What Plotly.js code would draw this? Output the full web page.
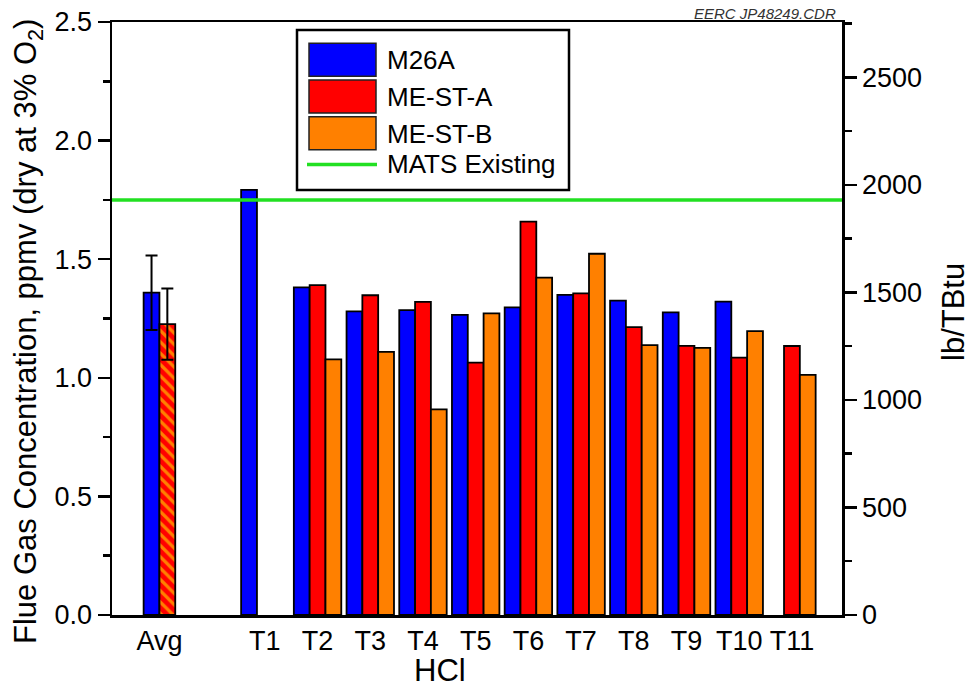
<!DOCTYPE html>
<html>
<head>
<meta charset="utf-8">
<script src="https://cdn.plot.ly/plotly-3.0.1.min.js"></script>
<style>html,body{margin:0;padding:0;background:#fff;}</style>
</head>
<body>
<div id="chart" style="width:972px;height:691px;"></div>
<script>
// HCl flue gas concentration by test run, three sampling methods
const axisCategories = ['Avg', ' ', 'T1', 'T2', 'T3', 'T4', 'T5', 'T6', 'T7', 'T8', 'T9', 'T10', 'T11'];
const testRuns = ['T1', 'T2', 'T3', 'T4', 'T5', 'T6', 'T7', 'T8', 'T9', 'T10', 'T11'];
const m26a  = [1.792, 1.381, 1.280, 1.285, 1.265, 1.297, 1.350, 1.325, 1.276, 1.321, null];
const mestA = [null, 1.391, 1.348, 1.320, 1.064, 1.658, 1.356, 1.214, 1.135, 1.085, 1.134];
const mestB = [null, 1.078, 1.109, 0.867, 1.272, 1.422, 1.523, 1.138, 1.126, 1.197, 1.012];
const avgLabel = ['Avg'];
const avgM26a = [1.359];
const avgM26aErr = [0.157];
const avgMest = [1.226];
const avgMestErr = [0.150];
const matsExisting = 1.75;          // ppmv
const ppmvToLbPerTBtu = 1103;       // right-axis conversion
const seriesNames = ['M26A', 'ME-ST-A', 'ME-ST-B', 'MATS Existing'];
const xTickLabels = avgLabel.concat(testRuns);

const BLUE = '#0000ff', RED = '#ff0000', ORANGE = '#ff8000', GREEN = '#22e022';
const FONT = 'Liberation Sans, Arial, sans-serif';

// plot area geometry (pixels)
const W = 972, H = 691, ML = 112, MR = 130, MT = 22, MB = 76;
const PW = W - ML - MR, PH = H - MT - MB;
const px = v => (v - ML) / PW;
const py = v => (H - MB - v) / PH;

const outline = {color: '#000', width: 1.8};
const barW = 0.3;

const traces = [
  {type: 'bar', name: seriesNames[0], x: testRuns, y: m26a, width: barW, offset: -1.5 * barW,
   marker: {color: BLUE, line: outline}},
  {type: 'bar', name: seriesNames[1], x: testRuns, y: mestA, width: barW, offset: -0.5 * barW,
   marker: {color: RED, line: outline}},
  {type: 'bar', name: seriesNames[2], x: testRuns, y: mestB, width: barW, offset: 0.5 * barW,
   marker: {color: ORANGE, line: outline}},
  {type: 'bar', name: 'M26A avg', x: avgLabel, y: avgM26a, width: barW, offset: -barW,
   marker: {color: BLUE, line: outline},
   error_y: {type: 'data', array: avgM26aErr, color: '#000', thickness: 2, width: 6}},
  {type: 'bar', name: 'ME-ST avg', x: avgLabel, y: avgMest, width: barW, offset: 0,
   marker: {color: RED, line: outline,
            pattern: {shape: '\\', fgcolor: ORANGE, bgcolor: RED, size: 8, solidity: 0.4, fillmode: 'replace'}},
   error_y: {type: 'data', array: avgMestErr, color: '#000', thickness: 2, width: 6}},
  // M26A in lb/TBtu on the secondary axis (transparent; carries the right-hand scale)
  {type: 'scatter', mode: 'markers', name: 'M26A lb/TBtu', x: testRuns,
   y: m26a.map(v => v == null ? null : v * ppmvToLbPerTBtu), yaxis: 'y2',
   marker: {opacity: 0, size: 1}, hoverinfo: 'skip'}
];

// legend drawn as a boxed key
const shapes = [
  {type: 'line', xref: 'paper', x0: 0, x1: 1, yref: 'y', y0: matsExisting, y1: matsExisting,
   line: {color: GREEN, width: 3.5}, layer: 'above'},
  {type: 'rect', xref: 'paper', yref: 'paper', x0: px(297), x1: px(569), y0: py(190), y1: py(30),
   fillcolor: '#fff', line: {color: '#000', width: 2.5}, layer: 'above'}
];
const swatchColors = [BLUE, RED, ORANGE];
const annotations = [];
const rowTop = 43.3, rowStep = 36.7, swH = 33;
swatchColors.forEach((c, i) => {
  const t = rowTop + i * rowStep;
  shapes.push({type: 'rect', xref: 'paper', yref: 'paper', x0: px(309), x1: px(376),
    y0: py(t + swH), y1: py(t), fillcolor: c, line: {color: '#222', width: 1.5}, layer: 'above'});
  annotations.push({xref: 'paper', yref: 'paper', x: px(385), y: py(t + swH / 2 + 0.5), xanchor: 'left',
    yanchor: 'middle', showarrow: false, text: seriesNames[i], font: {family: FONT, size: 26, color: '#000'}});
});
const lineRow = rowTop + 3 * rowStep + 11;
shapes.push({type: 'line', xref: 'paper', yref: 'paper', x0: px(307), x1: px(377), y0: py(lineRow), y1: py(lineRow),
  line: {color: GREEN, width: 3.5}, layer: 'above'});
annotations.push({xref: 'paper', yref: 'paper', x: px(385), y: py(lineRow), xanchor: 'left', yanchor: 'middle',
  showarrow: false, text: seriesNames[3], font: {family: FONT, size: 26, color: '#000'}});

// axis titles and file tag
annotations.push(
  {xref: 'paper', yref: 'paper', x: px(28), y: py(332), xanchor: 'center', yanchor: 'middle', textangle: -90,
   showarrow: false, text: 'Flue Gas Concentration, ppmv (dry at 3% O<sub>2</sub>)',
   font: {family: FONT, size: 31, color: '#000'}},
  {xref: 'paper', yref: 'paper', x: px(953), y: py(312), xanchor: 'center', yanchor: 'middle', textangle: -90,
   showarrow: false, text: 'lb/TBtu', font: {family: FONT, size: 31, color: '#000'}},
  {xref: 'paper', yref: 'paper', x: px(440), y: py(670), xanchor: 'center', yanchor: 'middle', showarrow: false,
   text: 'HCl', font: {family: FONT, size: 31, color: '#000'}},
  {xref: 'paper', yref: 'paper', x: px(838), y: py(13), xanchor: 'right', yanchor: 'middle', showarrow: false,
   text: '<i>EERC JP48249.CDR</i>', font: {family: FONT, size: 15, color: '#333'}}
);

const tickFont = {family: FONT, size: 27, color: '#000'};

const layout = {
  width: W, height: H,
  margin: {l: ML, r: MR, t: MT, b: MB, pad: 0},
  paper_bgcolor: '#fff', plot_bgcolor: '#fff',
  showlegend: false,
  barmode: 'overlay',
  font: {family: FONT, color: '#000'},
  xaxis: {
    type: 'category', categoryorder: 'array', categoryarray: axisCategories,
    tickmode: 'array', tickvals: xTickLabels, ticktext: xTickLabels,
    range: [-0.9, 12.95], showline: true, mirror: true, linecolor: '#000', linewidth: 2.5,
    ticks: '', showgrid: false, zeroline: false, tickfont: tickFont, fixedrange: true
  },
  yaxis: {
    range: [0, 2.5], dtick: 0.5, tick0: 0, tickformat: '.1f',
    ticks: 'outside', ticklen: 12, tickwidth: 2.5, tickcolor: '#000',
    minor: {dtick: 0.25, ticks: 'outside', ticklen: 7, tickwidth: 2.5, tickcolor: '#000'},
    showline: true, linecolor: '#000', linewidth: 2.5, showgrid: false, zeroline: false,
    tickfont: tickFont
  },
  yaxis2: {
    overlaying: 'y', side: 'right', range: [0, 2.5 * ppmvToLbPerTBtu], dtick: 500, tick0: 0,
    ticks: 'outside', ticklen: 12, tickwidth: 2.5, tickcolor: '#000',
    minor: {dtick: 250, ticks: 'outside', ticklen: 7, tickwidth: 2.5, tickcolor: '#000'},
    showline: true, linecolor: '#000', linewidth: 2.5, showgrid: false, zeroline: false,
    tickfont: tickFont
  },
  shapes: shapes,
  annotations: annotations
};

Plotly.newPlot('chart', traces, layout, {displayModeBar: false, staticPlot: true});
</script>
</body>
</html>
